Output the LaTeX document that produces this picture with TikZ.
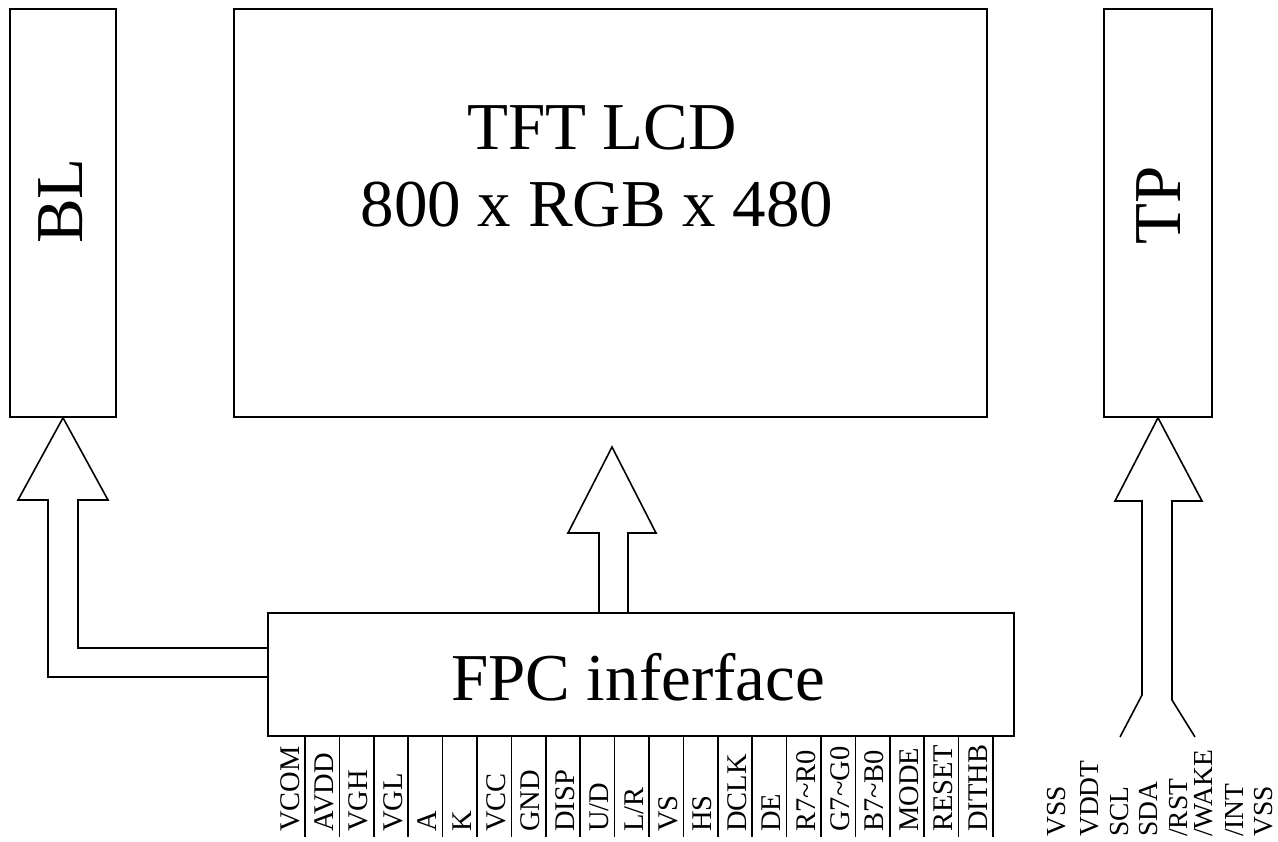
\documentclass[tikz,border=0pt]{standalone}
\usepackage{fontspec}
\setmainfont{Liberation Serif}
\begin{document}
\begin{tikzpicture}[x=1pt,y=-1pt,
  box/.style={draw, line width=1.6pt, inner sep=0pt},
  outline/.style={draw, line width=1.6pt, line join=miter},
  bigtext/.style={inner sep=0pt, font=\fontsize{67}{77}\selectfont},
  pin/.style={inner sep=0pt, rotate=90, anchor=base west, font=\fontsize{28.5}{30}\selectfont},
  tppin/.style={pin, font=\fontsize{27.5}{30}\selectfont},
  sep/.style={draw, line width=1.6pt}]
\useasboundingbox (0,0) rectangle (1278,842);
% boxes
\node[box, minimum width=106pt, minimum height=408pt] (bl) at (63,213) {};
\node[box, minimum width=753pt, minimum height=408pt] (tft) at (610.5,213) {};
\node[box, minimum width=108pt, minimum height=408pt] (tp) at (1158,213) {};
\node[box, minimum width=746pt, minimum height=123pt] (fpc) at (641,674.5) {};
% texts
\node[bigtext, rotate=90] (bltext) at (61,201) {BL};
\node[bigtext, rotate=90] (tptext) at (1159,205) {TP};
\node[bigtext, anchor=base] (tft1) at (602,150) {TFT LCD};
\node[bigtext, anchor=base] (tft2) at (597,227) {800 x RGB x 480};
\node[bigtext, anchor=base] (fpctext) at (638,700) {FPC inferface};
% BL block arrow
\coordinate (blA) at (268,677);
\coordinate (blB) at (268,648);
\draw[outline] (blA) -- (48,677) -- (48,500) -- (18,500) -- (bl.south) -- (108,500) -- (78,500) -- (78,648) -- (blB);
% centre block arrow
\coordinate (ctip) at (612,447);
\draw[outline] (599,613) -- (599,533) -- (568,533) -- (ctip) -- (656,533) -- (628,533) -- (628,613);
% TP block arrow
\coordinate (tpL) at (1120,737);
\coordinate (tpR) at (1195,737);
\draw[outline] (tpL) -- (1142,695) -- (1142,501) -- (1115,501) -- (tp.south) -- (1202,501) -- (1172,501) -- (1172,700) -- (tpR);
% FPC pins
\foreach \t [count=\i from 0] in {VCOM,AVDD,VGH,VGL,A,K,VCC,GND,DISP,U\slash D,L\slash R,VS,HS,DCLK,DE,R7\textasciitilde R0,G7\textasciitilde G0,B7\textasciitilde B0,MODE,RESET,DITHB}{
  \pgfmathsetmacro{\lx}{305+34.4*\i}
  \draw[sep] (\lx,736) -- (\lx,837);
  \node[pin] (p\i) at (\lx-6,832) {\t};
}
% TP pins
\foreach \bx/\t [count=\i] in {1065/VSS,1098/VDDT,1128/SCL,1157/SDA,1187/{\slash RST},1212/{\slash WAKE},1243/{\slash INT},1272/VSS}{
  \node[tppin] (q\i) at (\bx,837) {\t};
}
\end{tikzpicture}
\end{document}
